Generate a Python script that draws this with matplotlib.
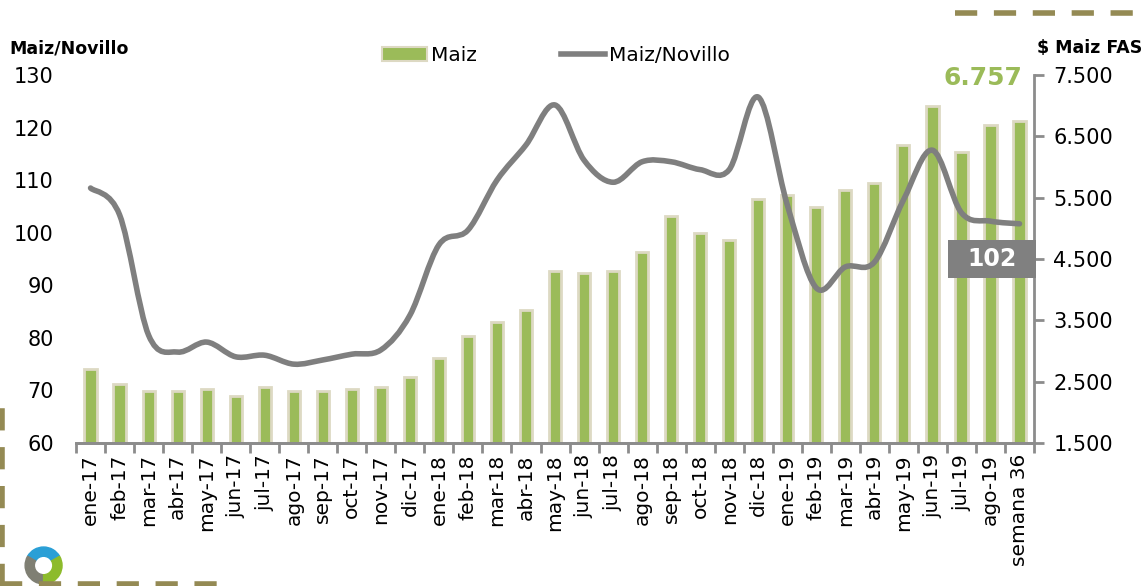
import numpy as np
import matplotlib
matplotlib.use("Agg")
import matplotlib.pyplot as plt
from matplotlib.path import Path
from matplotlib.patches import PathPatch, Wedge, Rectangle
from matplotlib.lines import Line2D
from matplotlib.patches import Patch

plt.rcParams['font.family'] = ['DejaVu Sans']

meses = ["ene-17", "feb-17", "mar-17", "abr-17", "may-17", "jun-17", "jul-17", "ago-17",
         "sep-17", "oct-17", "nov-17", "dic-17", "ene-18", "feb-18", "mar-18", "abr-18",
         "may-18", "jun-18", "jul-18", "ago-18", "sep-18", "oct-18", "nov-18", "dic-18",
         "ene-19", "feb-19", "mar-19", "abr-19", "may-19", "jun-19", "jul-19", "ago-19",
         "semana 36"]

# $ Maiz FAS (eje derecho)
maiz = [2700, 2460, 2350, 2350, 2380, 2270, 2410, 2350, 2350, 2380, 2410, 2580,
        2890, 3240, 3470, 3670, 4300, 4270, 4300, 4610, 5200, 4920, 4810, 5480,
        5540, 5350, 5630, 5740, 6360, 7000, 6240, 6690, 6757]

# relacion Maiz/Novillo (eje izquierdo)
maiz_novillo = [108.5, 103.4, 80.5, 77.3, 79.2, 76.4, 76.7, 75.0, 75.8, 76.9, 77.7, 84.3,
                97.7, 100.5, 110.0, 116.7, 124.3, 113.8, 109.6, 113.5, 113.5, 112.0, 112.0, 125.8,
                105.3, 89.5, 93.5, 94.4, 106.2, 115.7, 103.8, 102.2, 101.7]

verde = "#9bbb59"
gris = "#7f7f7f"
oliva = "#948a54"

fig = plt.figure(figsize=(11.47, 5.86), dpi=100)
ax = fig.add_axes([0.0663, 0.244, 0.8352, 0.628])
ax2 = ax.twinx()
x = np.arange(len(meses))

# barras en el eje derecho
ax2.bar(x, maiz, width=0.42, color=verde, edgecolor="#ddd9c3", linewidth=2)
ax2.set_ylim(1500, 7500)
ax2.set_yticks(range(1500, 7501, 1000))
ax2.set_yticklabels([f"{v:,}".replace(",", ".") for v in range(1500, 7501, 1000)])

# linea suavizada en el eje izquierdo (curva de Bezier por los puntos)
pts = np.column_stack([x, maiz_novillo]).astype(float)
verts = [tuple(pts[0])]
codes = [Path.MOVETO]
for i in range(len(pts) - 1):
    p0 = pts[i - 1] if i > 0 else pts[i]
    p1, p2 = pts[i], pts[i + 1]
    p3 = pts[i + 2] if i + 2 < len(pts) else pts[i + 1]
    c1 = p1 + (p2 - p0) / 6
    c2 = p2 - (p3 - p1) / 6
    verts += [tuple(c1), tuple(c2), tuple(p2)]
    codes += [Path.CURVE4] * 3
ax.add_patch(PathPatch(Path(verts, codes), facecolor="none", edgecolor=gris,
                       linewidth=4, capstyle="round", joinstyle="round"))
ax.set_ylim(60, 130)
ax.set_yticks(range(60, 131, 10))
ax.set_xlim(-0.5, len(meses) - 0.5)

ax.set_zorder(ax2.get_zorder() + 1)
ax.patch.set_visible(False)

# ejes
for a in (ax, ax2):
    for s in ("top", "left", "right"):
        a.spines[s].set_visible(False)
    a.spines["bottom"].set_color("#8c8c8c")
    a.spines["bottom"].set_linewidth(2)
ax2.spines["right"].set_visible(True)
ax2.spines["right"].set_color("#8c8c8c")
ax2.spines["right"].set_linewidth(2)

ax.set_xticks(x)
ax.set_xticklabels(meses, rotation=90, fontsize=14.5)
ax.tick_params(axis="x", length=0, pad=8)
ax.set_xticks(np.arange(-0.5, len(meses), 1), minor=True)
ax.tick_params(axis="x", which="minor", length=7, width=2, color="#8c8c8c")
ax.tick_params(axis="y", length=0, labelsize=15, pad=16)
ax2.tick_params(axis="y", length=7, width=2, color="#8c8c8c", labelsize=15, pad=7)

# titulos de ejes
fig.text(0.008, 0.918, "Maiz/Novillo", fontsize=12.5, fontweight="bold", ha="left", va="center")
fig.text(0.904, 0.918, "$ Maiz FAS", fontsize=12.5, fontweight="bold", ha="left", va="center")

# leyenda
fig.legend(handles=[Patch(facecolor=verde, edgecolor="#ddd9c3", linewidth=1.5),
                    Line2D([0], [0], color=gris, linewidth=4)],
           labels=["Maiz", "Maiz/Novillo"], ncol=2, loc="center",
           bbox_to_anchor=(0.485, 0.905), frameon=False, fontsize=14.5,
           handlelength=2.2, handletextpad=0.2, columnspacing=4.2)

# etiquetas de ultimo valor
ax2.text(32.1, 7450, f"{maiz[-1]:,}".replace(",", "."), color=verde,
         fontsize=18, fontweight="bold", ha="right", va="center")
ax.add_patch(Rectangle((29.53, 91.4), 3.05, 7.2, facecolor="#808080",
                       edgecolor="none", clip_on=False, zorder=5))
ax.text(31.05, 95.0, f"{round(maiz_novillo[-1])}", color="white",
        fontsize=17, fontweight="bold", ha="center", va="center", zorder=6)

# decoracion de bordes punteados
fig.add_artist(Line2D([0.833, 1.0], [0.977, 0.977], color=oliva, linewidth=4,
                      linestyle=(0, (4, 3)), transform=fig.transFigure))
fig.add_artist(Line2D([0.002, 0.002], [0.0, 0.32], color=oliva, linewidth=4,
                      linestyle=(0, (4, 3)), transform=fig.transFigure))
fig.add_artist(Line2D([0.0, 0.195], [0.004, 0.004], color=oliva, linewidth=4,
                      linestyle=(0, (4, 3)), transform=fig.transFigure))

# logo simple
lax = fig.add_axes([0.018, 0.0, 0.04, 0.07])
lax.set_xlim(-1, 1)
lax.set_ylim(-1, 1)
lax.set_aspect("equal")
lax.axis("off")
lax.add_patch(Wedge((0, 0), 0.9, 30, 150, width=0.45, color="#2a9fd6"))
lax.add_patch(Wedge((0, 0), 0.9, 150, 270, width=0.45, color="#7f7f73"))
lax.add_patch(Wedge((0, 0), 0.9, 270, 390, width=0.45, color="#8dbb2b"))

fig.savefig("out.png", dpi=100)
